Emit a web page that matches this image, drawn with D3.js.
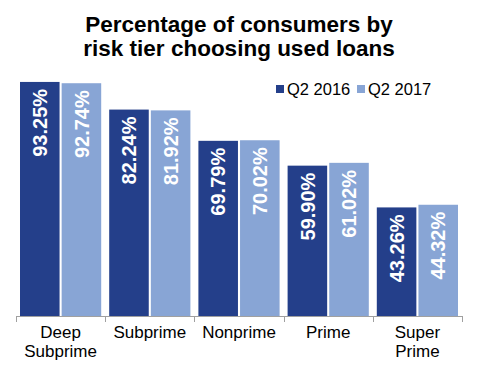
<!DOCTYPE html>
<html lang="en">
<head>
  <meta charset="UTF-8" />
  <title>Used loans by risk tier</title>
  <script src="https://d3js.org/d3.v7.min.js"></script>
  <style>
    body { margin: 0; background: #fff; font-family: "Liberation Sans", Arial, sans-serif; }
  </style>
</head>
<body>
  <svg id="chart"></svg>
  <script>
    const categories = [["Deep", "Subprime"], ["Subprime"], ["Nonprime"], ["Prime"], ["Super", "Prime"]];
    const seriesNames = ["Q2 2016", "Q2 2017"];
    const q2016 = [93.25, 82.24, 69.79, 59.90, 43.26];
    const q2017 = [92.74, 81.92, 70.02, 61.02, 44.32];
    const colors = ["#243f8a", "#88a5d5"];

    const width = 489, height = 375;
    const svg = d3.select("#chart").attr("width", width).attr("height", height);

    const catKeys = categories.map(c => c.join(" "));
    const x0 = d3.scaleBand().domain(catKeys).range([16, 462]).padding(0);
    const x1 = d3.scaleBand().domain(seriesNames).range([4, x0.bandwidth() - 4]).paddingInner(0.05);
    const y = d3.scaleLinear().domain([0, 100]).range([316, 65]);

    // title
    const title = svg.append("text")
      .attr("text-anchor", "middle")
      .style("font-size", "22.5px")
      .style("font-weight", "bold")
      .attr("fill", "#000");
    title.append("tspan").attr("x", 239).attr("y", 32).text("Percentage of consumers by");
    title.append("tspan").attr("x", 239).attr("y", 56).text("risk tier choosing used loans");

    const rows = catKeys.map((k, i) => ({ key: k, values: [q2016[i], q2017[i]] }));

    const groups = svg.selectAll("g.cat")
      .data(rows)
      .join("g")
      .attr("class", "cat")
      .attr("transform", d => "translate(" + x0(d.key) + ",0)");

    groups.selectAll("rect")
      .data(d => d.values.map((v, j) => ({ s: seriesNames[j], v, j })))
      .join("rect")
      .attr("x", d => x1(d.s))
      .attr("y", d => y(d.v))
      .attr("width", x1.bandwidth())
      .attr("height", d => y(0) - y(d.v))
      .attr("fill", d => colors[d.j]);

    groups.selectAll("text.val")
      .data(d => d.values.map((v, j) => ({ s: seriesNames[j], v, j })))
      .join("text")
      .attr("class", "val")
      .attr("transform", d => "translate(" + (x1(d.s) + x1.bandwidth() / 2) + "," + (y(d.v) + 7) + ") rotate(-90)")
      .attr("text-anchor", "end")
      .attr("dy", "0.36em")
      .style("font-size", "20px")
      .style("font-weight", "bold")
      .attr("fill", "#fff")
      .text(d => d.v.toFixed(2) + "%");

    // x axis
    const axis = svg.append("g");
    axis.append("line")
      .attr("x1", 16).attr("x2", 462)
      .attr("y1", y(0) + 0.5).attr("y2", y(0) + 0.5)
      .attr("stroke", "#a0a0a0");
    const tickPos = catKeys.map(k => x0(k)).concat([x0.range()[1]]);
    axis.selectAll("line.tick")
      .data(tickPos)
      .join("line")
      .attr("class", "tick")
      .attr("x1", d => Math.round(d) + 0.5).attr("x2", d => Math.round(d) + 0.5)
      .attr("y1", y(0)).attr("y2", y(0) + 6)
      .attr("stroke", "#a0a0a0");

    axis.selectAll("text.cat")
      .data(categories)
      .join("text")
      .attr("class", "cat")
      .attr("text-anchor", "middle")
      .style("font-size", "17px")
      .attr("fill", "#000")
      .each(function(d, i) {
        const t = d3.select(this);
        const cx = x0(catKeys[i]) + x0.bandwidth() / 2;
        d.forEach((line, li) => {
          t.append("tspan").attr("x", cx).attr("y", 338 + li * 19).text(line);
        });
      });

    // legend
    const legend = svg.append("g");
    const legX = [276, 357];
    seriesNames.forEach((s, i) => {
      legend.append("rect")
        .attr("x", legX[i]).attr("y", 85)
        .attr("width", 8).attr("height", 8)
        .attr("fill", colors[i]);
      legend.append("text")
        .attr("x", legX[i] + 11).attr("y", 95)
        .style("font-size", "16.5px")
        .attr("fill", "#000")
        .text(s);
    });
  </script>
</body>
</html>
